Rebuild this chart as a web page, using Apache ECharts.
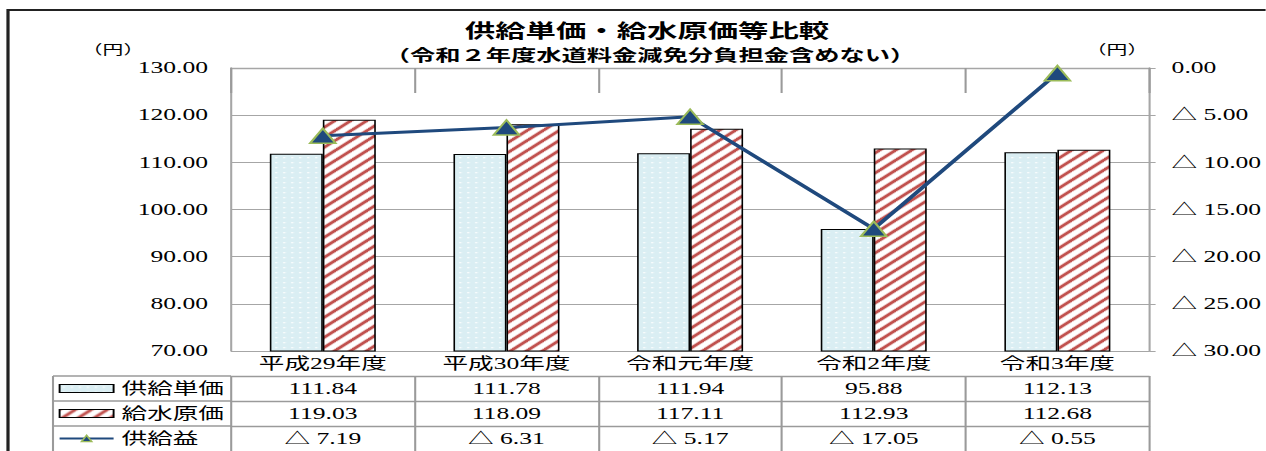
<!DOCTYPE html>
<html>
<head>
<meta charset="utf-8">
<script src="https://cdn.jsdelivr.net/npm/echarts@6/dist/echarts.min.js"></script>
<style>
  html, body { margin: 0; padding: 0; background: #fff; overflow: hidden; }
  #chart { height: 451px; transform-origin: 0 0; }
</style>
</head>
<body>
<div id="chart"></div>
<script>
// ---- data ----
const categories = ['平成29年度', '平成30年度', '令和元年度', '令和2年度', '令和3年度'];
const seriesNames = ['供給単価', '給水原価', '供給益'];
const supplyUnitPrice = [111.84, 111.78, 111.94, 95.88, 112.13];
const waterCostPrice = [119.03, 118.09, 117.11, 112.93, 112.68];
// shortfall of supply price against cost (shown with △)
const supplyMargin = [7.19, 6.31, 5.17, 17.05, 0.55];
const leftAxisRange = { min: 70, max: 130, step: 10 };
const rightAxisRange = { min: 0, max: 30, step: 5 };
const titleText = '供給単価・給水原価等比較';
const subTitleText = '（令和２年度水道料金減免分負担金含めない）';
const unitText = '（円）';

// ---- layout: the sheet is drawn narrow and stretched horizontally ----
const SX = 1.6;
const W = 1266 / SX;
const px = x => x / SX;
const el = document.getElementById('chart');
el.style.width = W + 'px';
el.style.transform = 'scaleX(' + SX + ')';

const SERIF = "'Liberation Serif', 'Noto Sans CJK JP', serif";
const GOTHIC = "'Noto Sans CJK JP', sans-serif";
const GRID_C = '#a6a6a6';
const BORDER_C = '#9a9a9a';
const ROW_H = 25;
const PLOT_BOTTOM = 351;

// fill patterns
function dotPattern() {
  const c = document.createElement('canvas');
  c.width = 5; c.height = 5;
  const g = c.getContext('2d');
  g.fillStyle = '#daeef3';
  g.fillRect(0, 0, 5, 5);
  g.fillStyle = '#ffffff';
  g.fillRect(2, 2, 1.3, 1.3);
  return c;
}
function stripePattern() {
  const s = 10;
  const c = document.createElement('canvas');
  c.width = s; c.height = s;
  const g = c.getContext('2d');
  g.fillStyle = '#ffffff';
  g.fillRect(0, 0, s, s);
  g.strokeStyle = '#c0504d';
  g.lineWidth = 2.6;
  g.beginPath();
  g.moveTo(-s, s); g.lineTo(s, -s);
  g.moveTo(0, 2 * s); g.lineTo(2 * s, 0);
  g.moveTo(-s, 2 * s); g.lineTo(2 * s, -s);
  g.stroke();
  return c;
}

const fmt2 = v => v.toFixed(2);
const fmtShort = v => (v === 0 ? '0.00' : '△ ' + v.toFixed(2));
const tableRows = [
  supplyUnitPrice.map(fmt2),
  waterCostPrice.map(fmt2),
  supplyMargin.map(fmtShort)
];

const labelStyle = { fontFamily: SERIF, fontSize: 16, color: '#000' };

function tableAxis(rowIdx, labels) {
  return {
    type: 'category',
    data: categories,
    position: 'bottom',
    offset: ROW_H * rowIdx,
    boundaryGap: true,
    axisLine: { show: true, lineStyle: { color: BORDER_C, width: 1.3 } },
    axisTick: { show: true, interval: 0, length: ROW_H, lineStyle: { color: BORDER_C, width: 1.3 } },
    axisLabel: Object.assign({
      interval: 0, margin: ROW_H / 2, verticalAlign: 'middle',
      formatter: (v, i) => labels[i]
    }, labelStyle),
    splitLine: { show: false }
  };
}

const xAxes = [
  Object.assign(tableAxis(0, categories), {
    axisLine: { show: true, lineStyle: { color: GRID_C, width: 1.3 } }
  }),
  tableAxis(1, tableRows[0]),
  tableAxis(2, tableRows[1]),
  tableAxis(3, tableRows[2])
];

const legendLeftX = px(53);
const plotLeftX = px(231);
const graphics = [
  // outer frame
  { type: 'rect', z: -1, silent: true,
    shape: { x: px(8), y: 10, width: W, height: 500 },
    style: { fill: null, stroke: '#222', lineWidth: 2 } },
  // heading
  { type: 'text', x: px(647), y: 30, silent: true,
    style: { text: titleText, font: 'bold 19px ' + GOTHIC, fill: '#000', align: 'center', verticalAlign: 'middle' } },
  { type: 'text', x: px(650), y: 54.5, silent: true,
    style: { text: subTitleText, font: 'bold 15.8px ' + GOTHIC, fill: '#000', align: 'center', verticalAlign: 'middle' } },
  { type: 'text', x: px(113), y: 48, silent: true,
    style: { text: unitText, font: '13px ' + GOTHIC, fill: '#000', align: 'center', verticalAlign: 'middle' } },
  { type: 'text', x: px(1117), y: 48, silent: true,
    style: { text: unitText, font: '13px ' + GOTHIC, fill: '#000', align: 'center', verticalAlign: 'middle' } },
  // legend column borders
  { type: 'line', silent: true, shape: { x1: legendLeftX, y1: PLOT_BOTTOM + ROW_H, x2: legendLeftX, y2: 460 },
    style: { stroke: BORDER_C, lineWidth: 1.3 } }
];
for (let r = 1; r <= 3; r++) {
  graphics.push({ type: 'line', silent: true,
    shape: { x1: legendLeftX, y1: PLOT_BOTTOM + ROW_H * r, x2: plotLeftX, y2: PLOT_BOTTOM + ROW_H * r },
    style: { stroke: BORDER_C, lineWidth: 1.3 } });
}

const chart = echarts.init(el, null, { renderer: 'svg', width: W, height: 451 });
chart.setOption({
  animation: false,
  backgroundColor: '#fff',
  grid: { left: px(231), right: W - px(1150), top: 68, bottom: 451 - PLOT_BOTTOM, containLabel: false },
  legend: {
    orient: 'vertical',
    left: px(58), top: 380.5,
    padding: 0,
    itemWidth: px(54), itemHeight: 8, itemGap: 9,
    data: [
      { name: seriesNames[0], icon: 'rect' },
      { name: seriesNames[1], icon: 'rect' },
      { name: seriesNames[2] }
    ],
    itemStyle: { borderWidth: 1.2 },
    textStyle: { fontFamily: SERIF, fontSize: 16, color: '#000', lineHeight: 16 },
    selectedMode: false
  },
  xAxis: xAxes,
  yAxis: [
    {
      type: 'value', min: leftAxisRange.min, max: leftAxisRange.max, interval: leftAxisRange.step,
      axisLine: { show: true, lineStyle: { color: GRID_C, width: 1.3 } },
      axisTick: { show: false },
      axisLabel: Object.assign({ margin: px(23), formatter: v => v.toFixed(2) }, labelStyle),
      splitLine: { show: true, lineStyle: { color: GRID_C, width: 1.2 } }
    },
    {
      type: 'value', min: rightAxisRange.min, max: rightAxisRange.max, interval: rightAxisRange.step,
      inverse: true, position: 'right',
      axisLine: { show: true, lineStyle: { color: GRID_C, width: 1.3 } },
      axisTick: { show: true, inside: false, length: 4, lineStyle: { color: GRID_C, width: 1.2 } },
      axisLabel: Object.assign({ margin: 14, align: 'left', formatter: fmtShort }, labelStyle),
      splitLine: { show: false }
    }
  ],
  series: [
    {
      name: seriesNames[0], type: 'bar', xAxisIndex: 0, yAxisIndex: 0,
      data: supplyUnitPrice, barWidth: px(53), barGap: '0%',
      itemStyle: { color: { image: dotPattern(), repeat: 'repeat' }, borderColor: '#000', borderWidth: 1 }
    },
    {
      name: seriesNames[1], type: 'bar', xAxisIndex: 0, yAxisIndex: 0,
      data: waterCostPrice, barWidth: px(53), barGap: '0%',
      itemStyle: { color: { image: stripePattern(), repeat: 'repeat' }, borderColor: '#000', borderWidth: 1 }
    },
    {
      name: seriesNames[2], type: 'line', xAxisIndex: 0, yAxisIndex: 1,
      data: supplyMargin,
      symbol: 'triangle', symbolSize: [16, 15],
      lineStyle: { color: '#1f497d', width: 3 },
      itemStyle: { color: '#1f497d', borderColor: '#9bbb59', borderWidth: 1.5 },
      z: 5
    }
  ],
  graphic: graphics
});
</script>
</body>
</html>
